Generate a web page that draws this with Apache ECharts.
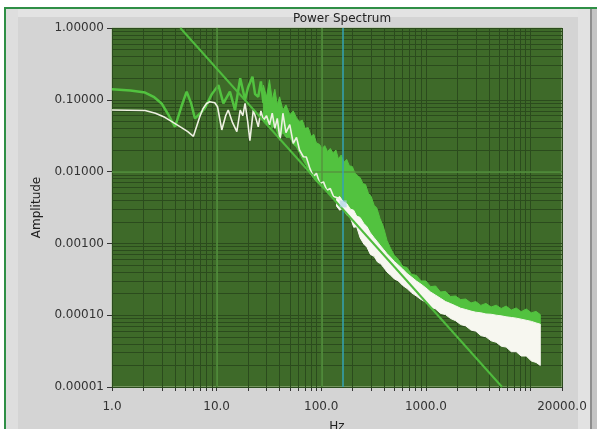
<!DOCTYPE html>
<html>
<head>
<meta charset="utf-8">
<script src="https://cdn.jsdelivr.net/npm/echarts@6/dist/echarts.min.js"></script>
<style>
html, body { margin: 0; padding: 0; background: #fff; }
#wrap { position: relative; width: 597px; height: 429px; overflow: hidden; background: #fff; }
.frame { position: absolute; left: 4px; top: 7px; right: 0; bottom: 0; border-left: 2px solid #2f8f46; border-top: 2px solid #2f8f46; background: #d4d4d4; }
.topband { position: absolute; left: 6px; top: 9px; width: 580px; height: 8px; background: #e3e3e3; }
.leftband { position: absolute; left: 6px; top: 9px; width: 12px; bottom: 0; background: #dedede; }
.rightedge { position: absolute; left: 578px; top: 9px; width: 12px; bottom: 0; background: #e2e2e2; }
.rightdark { position: absolute; left: 590px; top: 9px; width: 2px; bottom: 0; background: #8e8e8e; }
.rightend { position: absolute; left: 592px; top: 9px; width: 5px; bottom: 0; background: #c4c4c4; }
#chart { position: absolute; left: 0; top: 0; width: 597px; height: 429px; }
</style>
</head>
<body>
<div id="wrap">
  <div class="frame"></div>
  <div class="topband"></div>
  <div class="leftband"></div>
  <div class="rightedge"></div>
  <div class="rightdark"></div>
  <div class="rightend"></div>
  <div id="chart"></div>
</div>
<script>
// tick labels
var xLabels = [1, 10, 100, 1000, 20000];
var yLabels = [0.00001, 0.0001, 0.001, 0.01, 0.1, 1];

// green spectrum, low frequency trace
var greenHz  = [1, 1.5, 2.07, 2.5, 2.98, 3.5, 4.0, 4.6, 5.17, 5.7, 6.2, 7.0, 7.7, 9.0, 10.4, 11.6, 13.4, 15, 16.8, 18.7, 20, 22, 23.3, 25, 26.5, 28];
var greenAmp = [0.14, 0.135, 0.126, 0.11, 0.089, 0.06, 0.042, 0.08, 0.13, 0.09, 0.055, 0.065, 0.076, 0.12, 0.16, 0.089, 0.13, 0.072, 0.2, 0.1, 0.15, 0.21, 0.12, 0.11, 0.18, 0.09];

// green spectrum, spread band (upper / lower edge)
var gBandHz = [28, 30, 32, 34, 36, 38, 40, 43, 46, 50, 54, 58, 62, 66, 70, 75, 80, 85, 90, 96, 102, 108, 115, 122, 130, 138, 146, 155, 165, 175, 186, 198, 210, 222, 236, 250, 265, 282, 300, 320, 340, 365, 393, 425, 460, 500, 545, 600, 661, 730, 810, 900, 1000, 1110, 1240, 1380, 1540, 1720, 1920, 2150, 2400, 2700, 3000, 3350, 3750, 4200, 4700, 5250, 5850, 6550, 7300, 8150, 9100, 10200, 11300, 12400];
var gBandHi = [0.16, 0.11, 0.19, 0.1, 0.14, 0.085, 0.11, 0.072, 0.085, 0.062, 0.07, 0.056, 0.05, 0.052, 0.04, 0.041, 0.031, 0.033, 0.025, 0.024, 0.021, 0.023, 0.019, 0.021, 0.018, 0.02, 0.015, 0.017, 0.0135, 0.0148, 0.012, 0.0118, 0.0095, 0.0088, 0.0082, 0.0068, 0.0066, 0.005, 0.0045, 0.0034, 0.0031, 0.0022, 0.0017, 0.0011, 0.00085, 0.00068, 0.0006, 0.00048, 0.00046, 0.00037, 0.00036, 0.0003, 0.0003, 0.00025, 0.000255, 0.00021, 0.000215, 0.000182, 0.000185, 0.000165, 0.000168, 0.000148, 0.000155, 0.000137, 0.000146, 0.00013, 0.000138, 0.000124, 0.000134, 0.000118, 0.000126, 0.000112, 0.000122, 0.000108, 0.000113, 0.000102];
var gBandLo = [0.05, 0.045, 0.05, 0.04, 0.045, 0.035, 0.03, 0.035, 0.03, 0.03, 0.024, 0.022, 0.018, 0.015, 0.013, 0.011, 0.009, 0.008, 0.0072, 0.0066, 0.006, 0.0056, 0.0052, 0.0048, 0.0045, 0.0041, 0.0038, 0.0034, 0.0031, 0.0028, 0.0025, 0.0023, 0.0021, 0.0019, 0.0017, 0.0015, 0.0013, 0.0012, 0.0011, 0.001, 0.0009, 0.0008, 0.0007, 0.0006, 0.00055, 0.0005, 0.00044, 0.00039, 0.00034, 0.0003, 0.00027, 0.00024, 0.00021, 0.00019, 0.00017, 0.000155, 0.00014, 0.00013, 0.00012, 0.000112, 0.000106, 0.0001, 0.000097, 0.000095, 0.000093, 0.000092, 0.00009, 0.000088, 0.000086, 0.000084, 0.000082, 0.00008, 0.000078, 0.000075, 0.000072, 0.00007];

// white spectrum, low frequency trace
var whiteHz  = [1, 2.07, 2.6, 3.2, 3.7, 4.5, 5.3, 6.0, 6.9, 7.4, 8.0, 8.6, 9.6, 10.2, 11.2, 12.2, 12.9, 14.2, 15.6, 16.8, 17.8, 18.7, 19.8, 20.8, 22.4, 23.5, 25, 26.5, 28, 30, 32, 34, 36, 38, 40.4, 43, 46, 50, 54, 58, 62, 67.4, 72, 78, 84, 90, 97, 105, 113, 122, 131, 145, 162];
var whiteAmp = [0.072, 0.071, 0.065, 0.057, 0.05, 0.042, 0.036, 0.031, 0.058, 0.075, 0.089, 0.094, 0.091, 0.08, 0.038, 0.06, 0.072, 0.048, 0.036, 0.072, 0.06, 0.089, 0.05, 0.027, 0.072, 0.058, 0.042, 0.07, 0.052, 0.06, 0.045, 0.065, 0.04, 0.055, 0.0275, 0.065, 0.035, 0.045, 0.0248, 0.03, 0.02, 0.0161, 0.016, 0.011, 0.0085, 0.0095, 0.0068, 0.0072, 0.0055, 0.0058, 0.0045, 0.0043, 0.0034];

// white spectrum, spread band
var wBandHz = [140, 150, 162, 175, 190, 204, 218, 235, 255, 274, 295, 320, 345, 370, 395, 425, 460, 500, 545, 600, 661, 730, 810, 900, 1000, 1110, 1240, 1380, 1540, 1720, 1920, 2150, 2400, 2700, 3000, 3350, 3750, 4200, 4700, 5250, 5850, 6550, 7300, 8150, 9100, 10200, 11300, 12400];
var wBandHi = [0.0042, 0.0045, 0.0038, 0.0036, 0.003, 0.0029, 0.0024, 0.0023, 0.0019, 0.0017, 0.0014, 0.0012, 0.00105, 0.00092, 0.00082, 0.00072, 0.00064, 0.00056, 0.0005, 0.00044, 0.00038, 0.00034, 0.0003, 0.00027, 0.00024, 0.00021, 0.00019, 0.000172, 0.000155, 0.000145, 0.000135, 0.000125, 0.00012, 0.000114, 0.00011, 0.000108, 0.000104, 0.000103, 0.0001, 0.000098, 0.000095, 0.000093, 0.000091, 0.000088, 0.000085, 0.000082, 0.000078, 0.000075];
var wBandLo = [0.0033, 0.0029, 0.0031, 0.0025, 0.0023, 0.00168, 0.0017, 0.0012, 0.00098, 0.00088, 0.0007, 0.00066, 0.00055, 0.00052, 0.00046, 0.0004, 0.00036, 0.00032, 0.0003, 0.00026, 0.000235, 0.000205, 0.000185, 0.000165, 0.000152, 0.00013, 0.000122, 0.000106, 0.000102, 0.00009, 0.000084, 0.000074, 0.000071, 0.000062, 0.00006, 0.000052, 0.00005, 0.000044, 0.000042, 0.000037, 0.000036, 0.000031, 0.000031, 0.000027, 0.000027, 0.000023, 0.000022, 0.00002];

// straight fit line
var fitHz  = [4.5, 5350];
var fitAmp = [1, 0.00001];

// cursor
var cursorHz = 162;
var cursorAmp = 0.00355;

function pairs(xs, ys) {
  return xs.map(function(x, i) { return [x, ys[i]]; });
}
function band(xs, lo, hi) {
  return xs.map(function(x, i) { return [x, lo[i], hi[i]]; });
}
// minor grid positions 2..9 per decade
var xTicks = [], yTicks = [];
for (var d = 1; d <= 10000; d *= 10) {
  for (var k = 1; k <= 9; k++) {
    if (k * d <= 20000) xTicks.push(k * d);
  }
}
xTicks.push(20000);
for (var e = 0.00001; e < 0.5; e *= 10) {
  for (var m = 2; m <= 9; m++) yTicks.push(+(m * e).toPrecision(3));
}

function bandSeries(name, data, color, z) {
  return {
    name: name,
    type: 'custom',
    z: z,
    silent: true,
    encode: { x: 0, y: [1, 2] },
    data: data,
    renderItem: function(params, api) {
      if (params.dataIndex !== 0) return;
      var top = [], bottom = [];
      for (var i = 0; i < data.length; i++) {
        top.push(api.coord([data[i][0], data[i][2]]));
        bottom.unshift(api.coord([data[i][0], data[i][1]]));
      }
      return {
        type: 'polygon',
        shape: { points: top.concat(bottom) },
        style: { fill: color, stroke: color, lineWidth: 1 }
      };
    }
  };
}

var font = 'DejaVu Sans';
var chart = echarts.init(document.getElementById('chart'), null, { renderer: 'canvas' });

chart.setOption({
  backgroundColor: 'transparent',
  animation: false,
  title: {
    text: 'Power Spectrum',
    left: 337, top: 8, textAlign: 'center',
    textStyle: { fontFamily: font, fontSize: 12, fontWeight: 'normal', color: '#222' }
  },
  grid: {
    left: 112, right: 35, top: 28, bottom: 42,
    outerBoundsMode: 'none',
    show: true, backgroundColor: '#3e6a29', borderColor: '#a9bf94', borderWidth: 1
  },
  xAxis: [{
    type: 'log', logBase: 10, min: 1, max: 20000, z: 1,
    name: 'Hz', nameLocation: 'middle', nameGap: 34,
    nameTextStyle: { fontFamily: font, fontSize: 12, color: '#222' },
    axisLine: { show: false },
    axisTick: { show: false },
    splitLine: { show: false },
    axisLabel: {
      customValues: xLabels, margin: 14,
      fontFamily: font, fontSize: 12, color: '#333',
      formatter: function(v) { return v.toFixed(1); }
    }
  }, {
    type: 'log', logBase: 10, min: 1, max: 20000, position: 'bottom', z: 0,
    axisLine: { show: false },
    axisLabel: { show: false },
    axisTick: { show: true, customValues: xTicks, length: 4, lineStyle: { color: '#333', width: 1 } },
    splitLine: { show: true, lineStyle: { color: '#2b4b1d', width: 1 } }
  }],
  yAxis: [{
    type: 'log', logBase: 10, min: 0.00001, max: 1, z: 1,
    name: 'Amplitude', nameLocation: 'middle', nameGap: 69,
    nameTextStyle: { fontFamily: font, fontSize: 12, color: '#222' },
    axisLine: { show: false },
    axisTick: { show: true, customValues: yLabels, length: 5, lineStyle: { color: '#333' } },
    splitLine: { show: true, lineStyle: { color: '#2b4b1d', width: 1 } },
    axisLabel: {
      customValues: yLabels, margin: 8,
      fontFamily: font, fontSize: 12, color: '#333',
      formatter: function(v) { return v.toFixed(5); }
    }
  }, {
    type: 'log', logBase: 10, min: 0.00001, max: 1, position: 'left', z: 0,
    axisLine: { show: false },
    axisLabel: { show: false },
    axisTick: { show: false, customValues: yTicks },
    splitLine: { show: true, lineStyle: { color: '#2b4b1d', width: 1 } }
  }],
  series: [{
    name: 'cursor',
    type: 'line',
    z: 1,
    silent: true,
    showSymbol: false,
    data: [[cursorHz, cursorAmp]],
    lineStyle: { opacity: 0 },
    markLine: {
      silent: true, symbol: 'none', animation: false,
      label: { show: false },
      data: [
        { xAxis: 10, lineStyle: { color: '#56943f', width: 1.5, type: 'solid' } },
        { xAxis: 100, lineStyle: { color: '#56943f', width: 1.5, type: 'solid' } },
        { yAxis: 0.01, lineStyle: { color: '#56943f', width: 1.5, type: 'solid' } },
        { xAxis: cursorHz, lineStyle: { color: '#34a3b4', width: 1.5, type: 'solid' } },
        { yAxis: cursorAmp, lineStyle: { color: '#34a3b4', width: 1.5, type: 'solid' } }
      ]
    }
  },
  bandSeries('green band', band(gBandHz, gBandLo, gBandHi), '#52c23f', 3),
  {
    name: 'green',
    type: 'line', z: 4, silent: true, showSymbol: false,
    data: pairs(greenHz, greenAmp),
    lineStyle: { color: '#52c23f', width: 2.5 }
  },
  bandSeries('white band', band(wBandHz, wBandLo, wBandHi), '#f7f7f0', 5),
  {
    name: 'white',
    type: 'line', z: 6, silent: true, showSymbol: false,
    data: pairs(whiteHz, whiteAmp),
    lineStyle: { color: '#eef0e2', width: 1.6 }
  }, {
    name: 'fit',
    type: 'line', z: 7, silent: true, showSymbol: false,
    data: pairs(fitHz, fitAmp),
    lineStyle: { color: '#4fbb3d', width: 2 }
  }, {
    name: 'cursor point',
    type: 'scatter', z: 8, silent: true,
    data: [[cursorHz, cursorAmp]],
    symbol: 'rect', symbolSize: 7,
    itemStyle: { color: 'rgba(170, 210, 235, 0.8)' }
  }]
});
</script>
</body>
</html>
